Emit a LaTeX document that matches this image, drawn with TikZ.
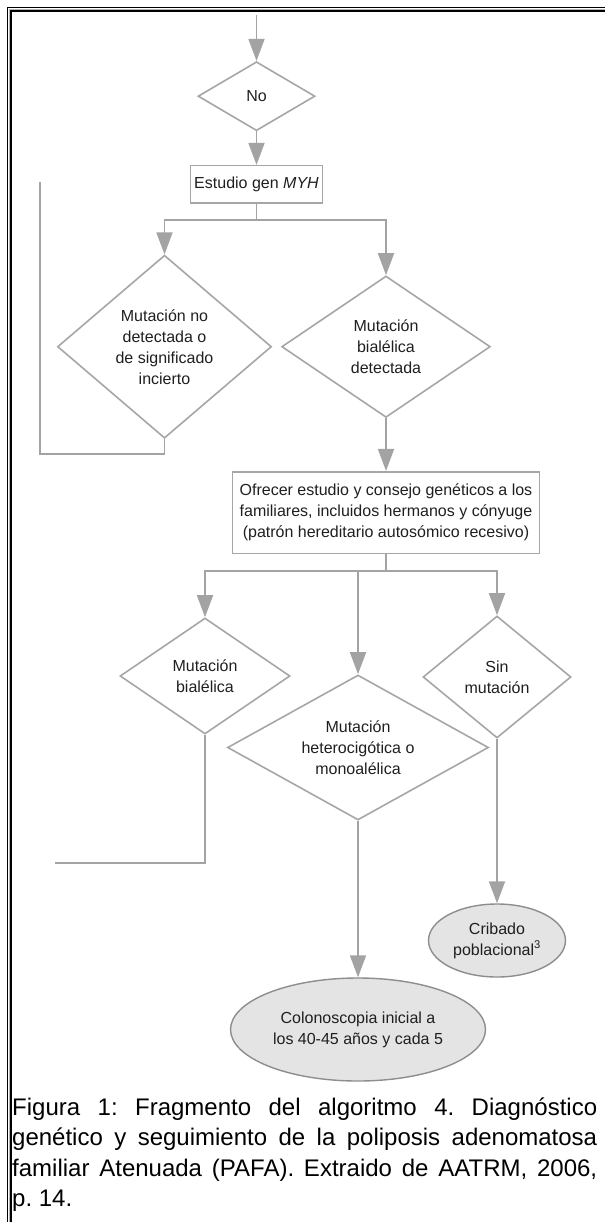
\documentclass[tikz,border=0pt]{standalone}
\usepackage{fontspec}
\setmainfont{Liberation Sans}
\usetikzlibrary{arrows.meta,shapes.geometric,positioning}
\definecolor{linegray}{HTML}{A3A3A3}
\definecolor{boxgray}{HTML}{A6A6A6}
\definecolor{fillgray}{HTML}{E4E4E4}
\definecolor{txtgray}{HTML}{1F1F1F}
\frenchspacing

\begin{document}
\begin{tikzpicture}[x=1pt,y=-1pt,>={Triangle[length=22pt,width=16pt]},
  flow/.style={->,draw=linegray,line width=1.8pt},
  line/.style={draw=linegray,line width=1.8pt},
  decision/.style={diamond,draw=boxgray,line width=1.6pt,inner sep=0pt,align=center,text=txtgray,font=\fontsize{16}{21}\selectfont},
  process/.style={rectangle,draw=boxgray,line width=1.6pt,inner sep=0pt,align=center,text=txtgray,font=\fontsize{16}{21}\selectfont},
  terminal/.style={ellipse,draw=boxgray!85!black,fill=fillgray,line width=1.4pt,inner sep=0pt,align=center,text=txtgray,font=\fontsize{16}{21}\selectfont}]
		\useasboundingbox (0,0) rectangle (605,1222);
		\draw[black,line width=1pt]     (7.8,1222) -- (7.8,7.8) -- (605,7.8);
		\draw[gray!60,line width=1.2pt] (9.3,1222) -- (9.3,9.3) -- (605,9.3);
		\draw[black,line width=1.7pt]   (10.9,1222) -- (10.9,10.9) -- (605,10.9);

		\coordinate (top) at (256.5,15);
		\node[decision,minimum width=117pt,minimum height=69pt,shape aspect=1.7]        (no)      at (256.5,96.2)   {No};
		\node[process,minimum width=132pt,minimum height=37.6pt,node distance=88.3pt,below of=no] (gen) {Estudio gen \textit{MYH}};
		\coordinate (split1) at (256.5,220);
		\node[decision,minimum width=214pt,minimum height=183pt,shape aspect=1.18]      (nodet)   at (164.5,346.7)  {Mutación no\\detectada o\\de significado\\incierto};
		\node[decision,minimum width=208.6pt,minimum height=141.4pt,shape aspect=1.47]  (bial)    at (386,346.7)    {Mutación\\bialélica\\detectada};
		\coordinate (loop1) at (40,182);
		\node[process,minimum width=307pt,minimum height=81.6pt,node distance=165.8pt,below of=bial] (ofrecer)
		     {Ofrecer estudio y consejo genéticos a los\\familiares, incluidos hermanos y cónyuge\\(patrón hereditario autosómico recesivo)};
		\coordinate (split2) at (386,571);
		\node[decision,minimum width=170pt,minimum height=116pt,shape aspect=1.47]      (bial2)   at (205,676)      {Mutación\\bialélica};
		\node[decision,minimum width=261pt,minimum height=145pt,shape aspect=1.8]       (hetero)  at (358,747.5)    {Mutación\\heterocigótica o\\monoalélica};
		\node[decision,minimum width=148pt,minimum height=122pt,shape aspect=1.21]      (sinmut)  at (497,677)      {Sin\\mutación};
		\coordinate (loop2) at (55,863);
		\node[terminal,minimum width=255pt,minimum height=103pt,node distance=282pt,below of=hetero]   (colono)  {Colonoscopia inicial a\\los 40-45 años y cada 5};
		\node[terminal,minimum width=137pt,minimum height=73pt,node distance=263.5pt,below of=sinmut]  (cribado) {Cribado\\poblacional\textsuperscript{3}};

		\draw[flow] (top) -- (no.north);
		\draw[flow] (no.south) -- (gen.north);
		\draw[line] (gen.south) -- (split1);
		\draw[flow] (split1) -| (nodet.north);
		\draw[flow] (split1) -| (bial.north);
		\draw[line] (nodet.south) -- ++(0,15) -| (loop1);
		\draw[flow] (bial.south) -- (ofrecer.north);
		\draw[line] (ofrecer.south) -- (split2);
		\draw[flow] (split2) -| (bial2.north);
		\draw[flow] (split2) -| (sinmut.north);
		\draw[flow] (hetero.north |- split2) -- (hetero.north);
		\draw[line] (bial2.south) |- (loop2);
		\draw[flow] (hetero.south) -- (colono.north);
		\draw[flow] (sinmut.south) -- (cribado.north);

		\node[anchor=base west,inner sep=0pt,text width=585pt,align=justify,font=\fontsize{24}{30.5}\selectfont] (caption) at (12,1115)
		     {Figura 1: Fragmento del algoritmo 4. Diagnóstico\linebreak genético y seguimiento de la poliposis adenomatosa\linebreak familiar Atenuada (PAFA). Extraido de AATRM, 2006,\linebreak p.~14.};
\end{tikzpicture}
\end{document}
